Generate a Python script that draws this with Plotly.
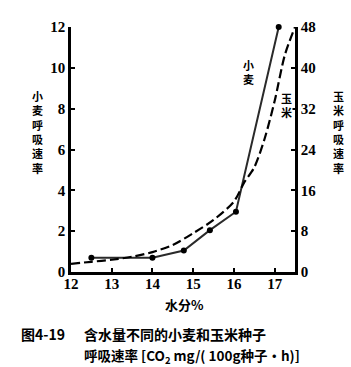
import plotly.graph_objects as go

# ---- data ----
wheat_x = [12.5, 14.0, 14.77, 15.41, 16.05, 17.1]
wheat_y = [0.7, 0.7, 1.05, 2.05, 2.95, 12.0]

corn_x = [12.0, 12.5, 13.0, 13.5, 14.0, 14.5, 15.0, 15.5, 16.0, 16.25, 16.5, 16.75, 17.0, 17.25, 17.5]
corn_y = [1.6, 2.0, 2.4, 3.0, 3.9, 5.3, 7.6, 10.2, 13.8, 17.5, 20.5, 26.0, 33.5, 42.5, 48.0]

x_ticks = [12, 13, 14, 15, 16, 17]
left_ticks = [0, 2, 4, 6, 8, 10, 12]
right_ticks = [0, 8, 16, 24, 32, 40, 48]

left_title = "小麦呼吸速率"
right_title = "玉米呼吸速率"
x_title = "水分%"
wheat_label = "小麦"
corn_label = "玉米"
caption1_a = "图4-19"
caption1_b = "含水量不同的小麦和玉米种子"
caption2 = "呼吸速率 [CO<sub>2</sub> mg/( 100g种子·h)]"

# ---- layout geometry ----
W, H = 351, 367
ML, MR, MT, MB = 71, 56, 27, 95
PW, PH = W - ML - MR, H - MT - MB

def px(x):
    return (x - ML) / PW

def py(y):
    return (H - MB - y) / PH

CJK = "Noto Sans CJK SC"
NUM = "Liberation Serif, Times New Roman, DejaVu Serif, serif"

fig = go.Figure()
fig.add_trace(go.Scatter(
    x=corn_x, y=corn_y, yaxis="y2", mode="lines",
    line=dict(color="black", width=2.2, dash="9px,4px", shape="spline", smoothing=0.8),
    showlegend=False, hoverinfo="skip"))
fig.add_trace(go.Scatter(
    x=wheat_x, y=wheat_y, mode="lines+markers",
    line=dict(color="#2a2a2a", width=2),
    marker=dict(color="black", size=6),
    cliponaxis=False,
    showlegend=False, hoverinfo="skip"))

axis_common = dict(showgrid=False, zeroline=False, showline=True, linecolor="black",
                   linewidth=2.5, ticks="inside", ticklen=4, tickwidth=2, tickcolor="black",
                   tickfont=dict(family=NUM, size=15, color="black", weight="bold"))

fig.update_layout(
    width=W, height=H,
    margin=dict(l=ML, r=MR, t=MT, b=MB),
    paper_bgcolor="white", plot_bgcolor="white",
    xaxis=dict(range=[12, 17.5], tickvals=x_ticks, ticklabelstandoff=-4, **axis_common),
    yaxis=dict(range=[0, 12], tickvals=left_ticks, **axis_common),
    yaxis2=dict(range=[0, 48], tickvals=right_ticks, overlaying="y", side="right", **axis_common),
)

ann = []

def vtext(text, cx, cy, size, bg=None):
    a = dict(text="<br>".join(text), xref="paper", yref="paper", x=px(cx), y=py(cy),
             xanchor="center", yanchor="middle", showarrow=False,
             font=dict(family=CJK, size=size, color="black", weight="bold"))
    if bg:
        a["bgcolor"] = bg
        a["borderpad"] = 0
    ann.append(a)

vtext(left_title, 37.5, 132, 11)
vtext(right_title, 338.5, 132, 11)
vtext(wheat_label, 248, 72, 11)
vtext(corn_label, 286, 105, 11, bg="white")

ann.append(dict(text=x_title, xref="paper", yref="paper", x=px(184), y=py(304),
                xanchor="center", yanchor="middle", showarrow=False,
                font=dict(family=CJK, size=13, color="black", weight="bold")))
ann.append(dict(text=caption1_a, xref="paper", yref="paper", x=px(19), y=py(334),
                xanchor="left", yanchor="middle", showarrow=False,
                font=dict(family=CJK, size=14, color="black", weight="bold")))
ann.append(dict(text=caption1_b, xref="paper", yref="paper", x=px(82), y=py(334),
                xanchor="left", yanchor="middle", showarrow=False,
                font=dict(family=CJK, size=14, color="black", weight="bold")))
ann.append(dict(text=caption2, xref="paper", yref="paper", x=px(82), y=py(356),
                xanchor="left", yanchor="middle", showarrow=False,
                font=dict(family=CJK, size=13.5, color="black", weight="bold")))

fig.update_layout(annotations=ann)
fig.write_html("out.html")
